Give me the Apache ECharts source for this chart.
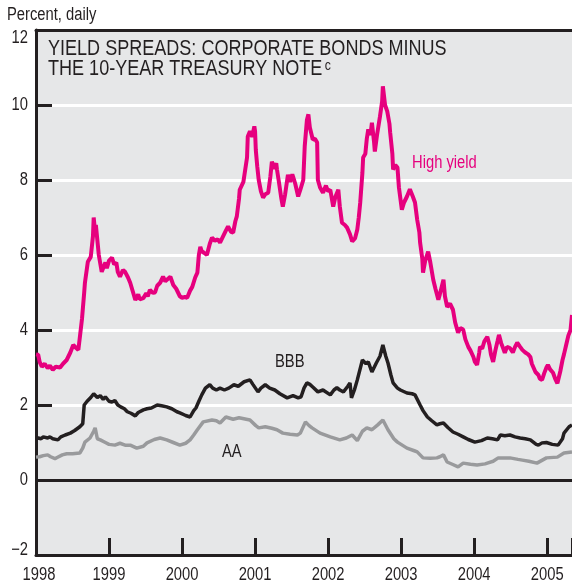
<!DOCTYPE html>
<html><head><meta charset="utf-8">
<script src="https://cdn.jsdelivr.net/npm/echarts@6/dist/echarts.min.js"></script>
<style>html,body{margin:0;padding:0;background:#fff}#c{width:572px;height:584px}</style>
</head><body><div id="c"></div>
<script>
// ---- data: [decimal year, percent] ----
const highYield = [
[1998.00,3.35],[1998.03,3.34],[1998.05,3.15],[1998.08,3.02],[1998.12,3.10],[1998.16,2.98],[1998.19,3.05],[1998.23,2.94],
[1998.27,3.02],[1998.33,3.00],[1998.37,3.10],[1998.42,3.20],[1998.47,3.40],[1998.51,3.60],[1998.55,3.52],[1998.58,3.47],
[1998.60,3.80],[1998.63,4.30],[1998.66,5.00],[1998.67,5.26],[1998.71,5.82],[1998.75,5.95],[1998.78,6.50],[1998.79,7.00],
[1998.81,6.60],[1998.82,6.80],[1998.84,6.40],[1998.86,6.00],[1998.90,5.55],[1998.95,5.80],[1998.97,5.65],[1999.00,5.85],
[1999.04,5.93],[1999.07,5.75],[1999.10,5.80],[1999.12,5.55],[1999.15,5.42],[1999.19,5.60],[1999.22,5.55],[1999.26,5.40],
[1999.29,5.26],[1999.33,5.00],[1999.36,4.80],[1999.40,4.95],[1999.42,4.82],[1999.47,4.85],[1999.51,4.98],[1999.53,4.90],
[1999.56,5.07],[1999.60,4.99],[1999.63,5.00],[1999.66,5.18],[1999.70,5.26],[1999.74,5.42],[1999.77,5.30],[1999.79,5.29],
[1999.84,5.42],[1999.88,5.20],[1999.92,5.10],[1999.95,4.98],[1999.97,4.90],[2000.00,4.86],[2000.04,4.88],[2000.07,4.86],
[2000.11,5.05],[2000.14,5.15],[2000.18,5.40],[2000.21,5.53],[2000.23,6.00],[2000.25,6.22],[2000.27,6.10],[2000.30,6.06],
[2000.34,6.00],[2000.38,6.30],[2000.41,6.46],[2000.45,6.38],[2000.49,6.42],[2000.52,6.33],[2000.56,6.49],[2000.60,6.65],
[2000.63,6.76],[2000.67,6.62],[2000.70,6.60],[2000.73,6.90],[2000.75,7.03],[2000.78,7.50],[2000.79,7.74],[2000.84,7.95],
[2000.86,8.00],[2000.89,8.60],[2000.90,9.16],[2000.93,9.30],[2000.96,9.15],[2000.99,9.43],[2001.00,9.30],[2001.01,8.80],
[2001.03,8.36],[2001.05,8.00],[2001.08,7.70],[2001.11,7.53],[2001.14,7.62],[2001.18,7.66],[2001.21,8.10],[2001.23,8.49],
[2001.26,8.30],[2001.29,8.45],[2001.30,8.28],[2001.33,7.90],[2001.36,7.50],[2001.38,7.29],[2001.41,7.60],[2001.45,8.14],
[2001.48,7.95],[2001.51,8.15],[2001.52,8.09],[2001.55,7.90],[2001.59,7.56],[2001.62,7.74],[2001.66,8.00],[2001.68,8.90],
[2001.71,9.60],[2001.73,9.75],[2001.75,9.40],[2001.79,9.08],[2001.82,9.10],[2001.85,9.00],[2001.86,8.00],[2001.89,7.80],
[2001.93,7.66],[2001.97,7.85],[2002.00,7.70],[2002.03,7.74],[2002.07,7.29],[2002.10,7.55],[2002.14,7.74],[2002.16,7.30],
[2002.19,6.86],[2002.23,6.80],[2002.26,6.73],[2002.30,6.55],[2002.33,6.36],[2002.37,6.45],[2002.40,6.68],[2002.42,7.00],
[2002.44,7.40],[2002.47,8.20],[2002.48,8.60],[2002.51,8.70],[2002.53,9.10],[2002.55,9.35],[2002.58,9.20],[2002.60,9.53],
[2002.63,9.00],[2002.64,8.76],[2002.67,9.20],[2002.71,9.69],[2002.74,10.10],[2002.75,10.50],[2002.78,10.00],[2002.81,9.83],
[2002.84,9.50],[2002.85,9.27],[2002.88,8.70],[2002.89,8.28],[2002.92,8.40],[2002.95,8.33],[2002.97,7.80],[2003.01,7.21],
[2003.04,7.40],[2003.08,7.56],[2003.12,7.75],[2003.16,7.56],[2003.19,7.40],[2003.22,6.94],[2003.25,6.60],[2003.26,6.33],
[2003.29,5.90],[2003.30,5.53],[2003.33,5.85],[2003.37,6.09],[2003.40,5.80],[2003.44,5.34],[2003.47,5.10],[2003.51,4.81],
[2003.53,4.95],[2003.58,5.34],[2003.60,4.90],[2003.63,4.62],[2003.67,4.70],[2003.71,4.54],[2003.74,4.20],[2003.78,3.93],
[2003.81,4.05],[2003.85,4.01],[2003.88,3.75],[2003.92,3.55],[2003.95,3.45],[2003.99,3.28],[2004.01,3.15],[2004.04,3.07],
[2004.07,3.40],[2004.08,3.55],[2004.11,3.50],[2004.14,3.70],[2004.18,3.82],[2004.21,3.60],[2004.23,3.35],[2004.26,3.15],
[2004.29,3.45],[2004.32,3.70],[2004.34,3.87],[2004.37,3.65],[2004.40,3.50],[2004.42,3.39],[2004.45,3.55],[2004.49,3.52],
[2004.53,3.40],[2004.56,3.55],[2004.59,3.66],[2004.63,3.55],[2004.66,3.47],[2004.70,3.40],[2004.74,3.35],[2004.77,3.28],
[2004.79,3.10],[2004.84,2.88],[2004.88,2.80],[2004.90,2.70],[2004.93,2.67],[2004.96,2.85],[2004.99,3.00],[2005.01,3.07],
[2005.04,2.95],[2005.08,2.86],[2005.11,2.70],[2005.14,2.58],[2005.15,2.54],[2005.18,2.90],[2005.21,3.20],[2005.23,3.35],
[2005.26,3.60],[2005.29,3.85],[2005.32,4.00],[2005.34,4.40]
];
const bbb = [
[1998.00,1.10],[1998.03,1.12],[1998.07,1.10],[1998.10,1.15],[1998.16,1.12],[1998.19,1.15],[1998.23,1.10],[1998.30,1.07],
[1998.34,1.15],[1998.40,1.20],[1998.47,1.25],[1998.53,1.32],[1998.60,1.42],[1998.64,1.50],[1998.66,2.00],[1998.70,2.10],
[1998.75,2.20],[1998.79,2.30],[1998.81,2.35],[1998.84,2.20],[1998.88,2.25],[1998.92,2.15],[1998.95,2.22],[1999.00,2.10],
[1999.04,2.08],[1999.08,2.12],[1999.12,2.00],[1999.16,1.95],[1999.21,1.90],[1999.25,1.82],[1999.30,1.78],[1999.36,1.71],
[1999.40,1.80],[1999.47,1.87],[1999.52,1.90],[1999.58,1.92],[1999.66,2.00],[1999.72,1.98],[1999.79,1.95],[1999.86,1.90],
[1999.93,1.82],[1999.97,1.79],[2000.05,1.72],[2000.11,1.68],[2000.16,1.85],[2000.19,1.92],[2000.23,2.10],[2000.27,2.27],
[2000.32,2.45],[2000.38,2.54],[2000.42,2.45],[2000.47,2.40],[2000.52,2.45],[2000.58,2.40],[2000.64,2.45],[2000.71,2.54],
[2000.77,2.50],[2000.85,2.62],[2000.93,2.67],[2000.97,2.55],[2001.04,2.35],[2001.08,2.45],[2001.14,2.54],[2001.20,2.45],
[2001.27,2.40],[2001.34,2.30],[2001.44,2.19],[2001.52,2.25],[2001.59,2.19],[2001.63,2.22],[2001.67,2.45],[2001.71,2.59],
[2001.75,2.55],[2001.79,2.48],[2001.86,2.35],[2001.93,2.40],[2002.03,2.27],[2002.08,2.40],[2002.12,2.46],[2002.16,2.40],
[2002.21,2.35],[2002.27,2.50],[2002.30,2.59],[2002.32,2.19],[2002.36,2.40],[2002.40,2.67],[2002.47,3.20],[2002.52,3.10],
[2002.55,3.15],[2002.60,2.88],[2002.66,3.12],[2002.71,3.30],[2002.75,3.60],[2002.79,3.30],[2002.82,3.12],[2002.86,2.80],
[2002.89,2.59],[2002.95,2.45],[2002.99,2.40],[2003.08,2.32],[2003.15,2.30],[2003.19,2.27],[2003.26,2.00],[2003.30,1.85],
[2003.36,1.68],[2003.42,1.58],[2003.49,1.47],[2003.53,1.50],[2003.58,1.52],[2003.64,1.40],[2003.71,1.28],[2003.78,1.22],
[2003.85,1.15],[2003.92,1.08],[2004.01,1.01],[2004.10,1.05],[2004.18,1.12],[2004.25,1.10],[2004.32,1.07],[2004.36,1.20],
[2004.42,1.18],[2004.49,1.20],[2004.56,1.15],[2004.63,1.12],[2004.70,1.10],[2004.77,1.07],[2004.85,0.95],[2004.88,0.93],
[2004.93,0.99],[2004.99,1.00],[2005.07,0.95],[2005.15,0.93],[2005.21,1.10],[2005.23,1.25],[2005.30,1.42],[2005.34,1.47]
];
const aa = [
[1998.00,0.61],[1998.05,0.62],[1998.10,0.65],[1998.16,0.67],[1998.20,0.62],[1998.26,0.57],[1998.29,0.60],[1998.36,0.67],
[1998.42,0.70],[1998.50,0.70],[1998.60,0.72],[1998.64,0.85],[1998.67,1.01],[1998.74,1.12],[1998.79,1.30],[1998.81,1.39],
[1998.84,1.10],[1998.88,1.07],[1998.95,1.00],[1999.00,0.95],[1999.08,0.93],[1999.15,0.98],[1999.22,0.93],[1999.29,0.93],
[1999.38,0.85],[1999.47,0.90],[1999.52,0.99],[1999.62,1.08],[1999.70,1.12],[1999.79,1.07],[1999.88,1.00],[1999.97,0.93],
[2000.05,0.98],[2000.11,1.07],[2000.16,1.20],[2000.21,1.34],[2000.29,1.55],[2000.41,1.60],[2000.47,1.58],[2000.52,1.52],
[2000.60,1.68],[2000.70,1.62],[2000.78,1.66],[2000.88,1.62],[2000.93,1.60],[2001.01,1.45],[2001.05,1.39],[2001.14,1.42],
[2001.23,1.38],[2001.30,1.34],[2001.38,1.25],[2001.48,1.22],[2001.58,1.20],[2001.62,1.25],[2001.69,1.55],[2001.74,1.45],
[2001.78,1.39],[2001.89,1.25],[2002.03,1.15],[2002.16,1.07],[2002.25,1.12],[2002.33,1.20],[2002.40,1.05],[2002.47,1.30],
[2002.53,1.39],[2002.60,1.34],[2002.68,1.47],[2002.75,1.60],[2002.82,1.34],[2002.90,1.10],[2002.95,1.01],[2003.08,0.85],
[2003.18,0.78],[2003.22,0.75],[2003.30,0.59],[2003.40,0.58],[2003.49,0.59],[2003.53,0.62],[2003.58,0.67],[2003.63,0.48],
[2003.70,0.42],[2003.78,0.35],[2003.85,0.45],[2003.95,0.42],[2004.04,0.40],[2004.15,0.43],[2004.18,0.45],[2004.26,0.50],
[2004.33,0.59],[2004.49,0.59],[2004.60,0.55],[2004.66,0.53],[2004.75,0.50],[2004.86,0.45],[2004.99,0.59],[2005.14,0.61],
[2005.23,0.72],[2005.34,0.75]
];
const seriesNames = ['High yield', 'BBB', 'AA'];
const yearTicks = [1998, 1999, 2000, 2001, 2002, 2003, 2004, 2005];
const yTicks = [-2, 0, 2, 4, 6, 8, 10, 12];
const yTickLabels = ['\u22122', '0', '2', '4', '6', '8', '10', '12'];

const FONT = "'Liberation Sans', Arial, sans-serif";
const NARROW = 0.82; // condensed face emulated by horizontal scaling
const INK = '#231f20';
const MAGENTA = '#e6007e';
const GREY = '#999a9c';

const chart = echarts.init(document.getElementById('c'), null, {renderer: 'canvas'});
chart.setOption({
  animation: false,
  backgroundColor: '#ffffff',
  grid: {left: 36, top: 30, right: 0, bottom: 29, show: true, backgroundColor: '#e6e7e8', borderWidth: 0},
  xAxis: [{
    type: 'value', min: 1998, max: 2005.34, interval: 1,
    axisLine: {show: true, onZero: false, lineStyle: {color: INK, width: 3}},
    axisTick: {show: true, inside: true, length: 17, lineStyle: {color: INK, width: 3}},
    axisLabel: {show: false},
    splitLine: {show: false}
  }, {
    type: 'value', position: 'top', min: 1998, max: 2005.34,
    axisLine: {show: true, onZero: false, lineStyle: {color: INK, width: 3}},
    axisTick: {show: false}, axisLabel: {show: false}, splitLine: {show: false}
  }],
  yAxis: {
    type: 'value', min: -2, max: 12, interval: 2,
    axisLine: {show: true, onZero: false, lineStyle: {color: INK, width: 3}},
    axisTick: {show: true, inside: true, length: 16, lineStyle: {color: INK, width: 3}},
    axisLabel: {show: false},
    splitLine: {show: true, lineStyle: {color: '#ffffff', width: 3}}
  },
  series: [
    {name: seriesNames[2], type: 'line', data: aa, showSymbol: false,
     lineStyle: {color: GREY, width: 3.5}, z: 3},
    {name: seriesNames[1], type: 'line', data: bbb, showSymbol: false,
     lineStyle: {color: INK, width: 3.5}, z: 4,
     markLine: {silent: true, symbol: 'none', label: {show: false},
       lineStyle: {color: INK, width: 3, type: 'solid'}, data: [{yAxis: 0}], z: 2}},
    {name: seriesNames[0], type: 'line', data: highYield, showSymbol: false,
     lineStyle: {color: MAGENTA, width: 4}, z: 5}
  ]
});

function narrowText(x, y, text, size, fill, align, extra) {
  return {
    type: 'text', x: x, y: y, scaleX: NARROW, scaleY: 1, z: 100,
    style: Object.assign({x: 0, y: 0, text: text, font: size + 'px ' + FONT, fill: fill,
      align: align || 'left', verticalAlign: 'middle'}, extra || {})
  };
}

const g = [];
// y-axis tick labels, placed with the axis scale
yTicks.forEach((v, i) => {
  let py = chart.convertToPixel({yAxisIndex: 0}, v);
  if (v === 12) py += 8;
  if (v === -2) py -= 5;
  g.push(narrowText(28, py, yTickLabels[i], 18, INK, 'right'));
});
// x-axis year labels
yearTicks.forEach(yr => {
  const px = chart.convertToPixel({xAxisIndex: 0}, yr);
  g.push(narrowText(px + (yr === 1998 ? 3 : 0), 575, String(yr), 18, INK, 'center'));
});
g.push(narrowText(7, 15, 'Percent, daily', 18, INK, 'left'));
g.push(narrowText(48, 49, 'YIELD SPREADS: CORPORATE BONDS MINUS', 22, INK, 'left'));
g.push({
  type: 'text', x: 48, y: 69, scaleX: NARROW, z: 100,
  style: {x: 0, y: 0, text: '{t|THE 10-YEAR TREASURY NOTE}{s|c}', verticalAlign: 'middle',
    rich: {t: {font: '22px ' + FONT, fill: INK}, s: {font: '15px ' + FONT, fill: INK, verticalAlign: 'top', padding: [0, 0, 0, 3]}}}
});
g.push(narrowText(412, 163, seriesNames[0], 18, MAGENTA, 'left'));
g.push(narrowText(275, 362, seriesNames[1], 18, INK, 'left'));
g.push(narrowText(222, 452, seriesNames[2], 18, INK, 'left'));
chart.setOption({graphic: g});
</script>
</body></html>
